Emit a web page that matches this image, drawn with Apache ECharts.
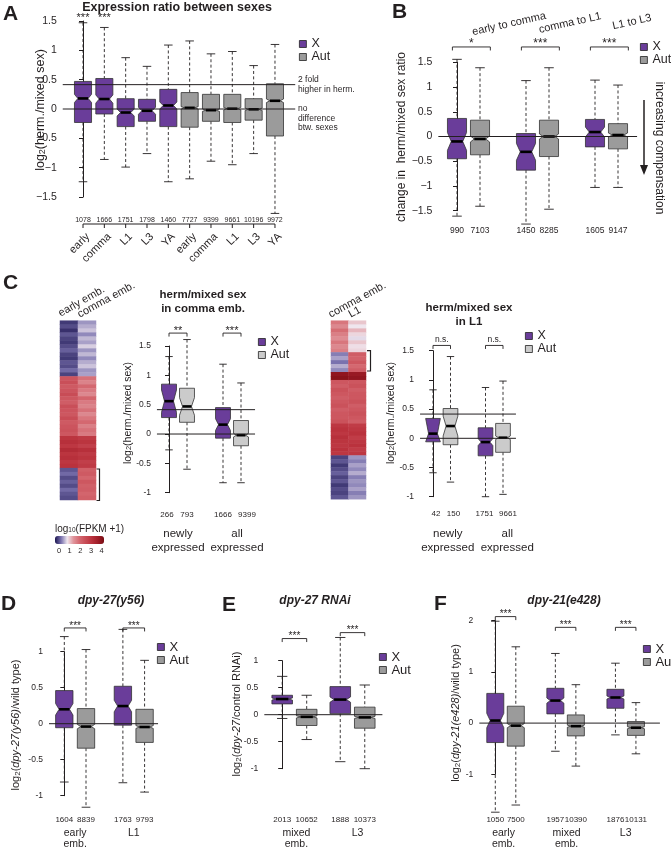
<!DOCTYPE html>
<html><head><meta charset="utf-8">
<script src="https://cdn.jsdelivr.net/npm/echarts@6.0.0/dist/echarts.min.js"></script>
<style>html,body{margin:0;padding:0;background:#fff}#c{width:671px;height:849px}</style>
</head><body><div id="c"></div><script>
const FONT = '"Liberation Sans", Arial, Helvetica, sans-serif';
const INK = '#231f20';
const X_COLOR = '#6a3d9a';
const AUT_COLOR = '#9b9b9b';
const AUT_LIGHT = '#cbcbcb';
const HEAT_COLORS = ['#1b1450','#7a72ae','#efe6ee','#e0959c','#d46870','#c84c56','#ba323d','#a01e29','#780b12'];

// ---------- Panel A ----------
const A_labels = ['early','comma','L1','L3','YA','early','comma','L1','L3','YA'];
const A_n = [1078,1666,1751,1798,1460,7727,9399,9661,10196,9972];
const A_type = [0,0,0,0,0,1,1,1,1,1];
const A_high = [1.47,1.39,0.875,0.727,1.09,1.16,0.94,0.98,0.74,1.10];
const A_q3 = [0.47,0.52,0.176,0.165,0.335,0.28,0.25,0.25,0.176,0.43];
const A_med = [0.18,0.17,-0.06,-0.03,0.06,0.02,-0.02,0.005,-0.005,0.14];
const A_q1 = [-0.23,-0.085,-0.30,-0.21,-0.30,-0.31,-0.21,-0.23,-0.19,-0.46];
const A_low = [-1.24,-0.86,-0.99,-0.76,-1.24,-1.19,-0.89,-0.95,-0.76,-1.78];
const A_notch = [0.07,0.07,0.06,0.06,0.06,0.02,0.02,0.02,0.02,0.03];
const A_sig = ['***','***'];

// ---------- Panel B ----------
const B_groups = ['early to comma','comma to L1','L1 to L3'];
const B_n = [990,7103,1450,8285,1605,9147];
const B_high = [1.56,1.39,1.13,1.39,1.14,1.04];
const B_q3 = [0.365,0.33,0.06,0.33,0.345,0.26];
const B_med = [-0.10,-0.05,-0.31,0.0,0.09,0.03];
const B_q1 = [-0.45,-0.37,-0.68,-0.405,-0.21,-0.25];
const B_low = [-1.61,-1.41,-1.77,-1.47,-1.03,-1.03];
const B_notch = [0.18,0.06,0.17,0.05,0.10,0.04];
const B_sig = ['*','***','***'];

// ---------- Panel C (left box plot) ----------
const C_groups = ['newly\nexpressed','all\nexpressed'];
const C1_n = [266,793,1666,9399];
const C1_high = [1.32,1.61,1.19,0.87];
const C1_q3 = [0.85,0.78,0.45,0.23];
const C1_med = [0.56,0.47,0.16,-0.02];
const C1_q1 = [0.28,0.20,-0.07,-0.20];
const C1_low = [-0.27,-0.60,-0.83,-0.83];
const C1_notch = [0.19,0.15,0.10,0.03];
const C1_sig = ['**','***'];

// ---------- Panel C (right box plot) ----------
const C2_n = [42,150,1751,9661];
const C2_high = [0.83,1.40,0.87,0.98];
const C2_q3 = [0.34,0.51,0.18,0.255];
const C2_med = [0.08,0.21,-0.065,0.01];
const C2_q1 = [-0.06,-0.11,-0.30,-0.24];
const C2_low = [-0.59,-0.75,-1.00,-0.96];
const C2_notch = [0.30,0.17,0.06,0.03];
const C2_sig = ['n.s.','n.s.'];

// ---------- Heatmaps (log10(FPKM+1)), rows top to bottom ----------
const H1_cols = ['early emb.','comma emb.'];
const H1_early = [0.2,0.3,0.15,0.35,0.25,0.2,0.3,0.4,0.25,0.2,0.35,0.3,0.45,0.25,
  2.35,2.45,2.25,2.35,2.5,2.3,2.2,2.45,2.35,2.3,2.5,2.25,2.35,2.4,2.3,
  2.95,3.05,2.9,3.15,2.95,3.05,2.9,3.0,
  0.35,0.45,0.3,0.4,0.3,0.45,0.35,0.3];
const H1_comma = [0.65,0.75,0.85,0.6,0.8,0.7,0.9,0.65,0.8,0.6,0.75,0.85,0.65,0.7,
  1.9,1.7,2.0,1.8,1.65,2.05,1.8,1.7,1.9,1.65,1.85,2.0,1.75,1.9,1.8,
  2.85,2.95,2.75,3.05,2.85,2.95,2.75,2.85,
  2.15,2.25,2.05,2.3,2.15,2.2,2.05,2.15];
const H2_cols = ['comma emb.','L1'];
const H2_comma = [1.85,1.65,1.95,1.75,1.6,1.85,1.65,1.75,
  0.55,0.7,0.5,0.75,0.6,
  3.7,3.8,
  2.3,2.2,2.4,2.3,2.2,2.3,2.4,2.2,2.3,2.3,2.4,
  2.9,3.0,2.9,3.05,2.95,2.9,3.0,2.9,
  0.25,0.35,0.2,0.3,0.4,0.25,0.35,0.2,0.3,0.25,0.35];
const H2_L1 = [1.2,1.0,1.3,1.1,0.95,1.2,1.05,1.1,
  2.2,2.1,2.3,2.0,2.2,
  3.6,3.7,
  2.3,2.4,2.2,2.3,2.3,2.4,2.2,2.3,2.4,2.3,2.2,
  2.8,2.9,3.0,2.8,2.9,3.0,2.8,2.9,
  0.65,0.55,0.7,0.6,0.75,0.55,0.65,0.6,0.7,0.55,0.65];
const CB_ticks = [0,1,2,3,4];

// ---------- Panel D ----------
const D_groups = ['early\nemb.','L1'];
const D_n = [1604,8839,1763,9793];
const D_high = [1.21,1.03,1.31,0.88];
const D_q3 = [0.46,0.21,0.52,0.20];
const D_med = [0.20,-0.04,0.245,-0.046];
const D_q1 = [-0.056,-0.34,-0.02,-0.26];
const D_low = [-0.81,-1.16,-0.82,-0.95];
const D_notch = [0.08,0.03,0.08,0.02];
const D_sig = ['***','***'];

// ---------- Panel E ----------
const E_groups = ['mixed\nemb.','L3'];
const E_n = [2013,10652,1888,10373];
const E_high = [0.71,0.36,1.43,0.55];
const E_q3 = [0.36,0.10,0.52,0.14];
const E_med = [0.29,-0.04,0.28,-0.05];
const E_q1 = [0.20,-0.20,0.02,-0.25];
const E_low = [-0.07,-0.46,-0.87,-1.0];
const E_notch = [0.02,0.02,0.05,0.02];
const E_sig = ['***','***'];

// ---------- Panel F ----------
const F_groups = ['early\nemb.','mixed\nemb.','L3'];
const F_n = [1050,7500,1957,10390,1876,10131];
const F_high = [1.99,1.49,1.36,0.75,1.17,0.40];
const F_q3 = [0.58,0.33,0.68,0.16,0.66,0.03];
const F_med = [0.05,-0.05,0.44,-0.06,0.50,-0.09];
const F_q1 = [-0.38,-0.45,0.18,-0.25,0.29,-0.24];
const F_low = [-1.74,-1.60,-0.55,-0.84,-0.23,-0.60];
const F_notch = [0.14,0.04,0.05,0.02,0.03,0.02];
const F_sig = ['***','***','***'];

// =================== building ===================
const option = {animation:false, backgroundColor:'#fff', grid:[], xAxis:[], yAxis:[], series:[], legend:[], graphic:[], visualMap:[]};

function fmtTick(v, minus){ return v < 0 ? minus + String(Math.abs(v)) : String(v); }

function boxRenderer(p){
  return function(params, api){
    const pos = api.value(0);
    const low = api.value(1), q1 = api.value(2), med = api.value(3), q3 = api.value(4), high = api.value(5), nh = api.value(6);
    const ci = api.value(7);
    const w = api.size([p.boxFrac, 0])[0];
    const hw = w / 2, ins = hw * 0.4, cap = hw / 2;
    const cx = api.coord([pos, med])[0];
    const Y = v => api.coord([pos, v])[1];
    const L = cx - hw, R = cx + hw;
    const yq3 = Y(q3), yq1 = Y(q1), ym = Y(med);
    const yn1 = Y(Math.min(q3, med + nh)), yn2 = Y(Math.max(q1, med - nh));
    const yh = Y(high), yl = Y(low);
    const fill = ci === 0 ? X_COLOR : p.autColor;
    const dash = {stroke: INK, lineWidth: 0.9, lineDash: [3, 2.4], fill: null};
    const solid = {stroke: INK, lineWidth: 0.9, fill: null};
    return {type:'group', children:[
      {type:'line', shape:{x1:cx, y1:yh, x2:cx, y2:yq3}, style:dash},
      {type:'line', shape:{x1:cx, y1:yq1, x2:cx, y2:yl}, style:dash},
      {type:'line', shape:{x1:cx-cap, y1:yh, x2:cx+cap, y2:yh}, style:solid},
      {type:'line', shape:{x1:cx-cap, y1:yl, x2:cx+cap, y2:yl}, style:solid},
      {type:'polygon', shape:{points:[[L,yq3],[R,yq3],[R,yn1],[R-ins,ym],[R,yn2],[R,yq1],[L,yq1],[L,yn2],[L+ins,ym],[L,yn1]]},
        style:{fill: fill, stroke:'#333', lineWidth:0.8}},
      {type:'line', shape:{x1:L+ins, y1:ym, x2:R-ins, y2:ym}, style:{stroke:'#000', lineWidth:2.6}}
    ]};
  };
}

function addPanel(p){
  const gi = option.grid.length;
  option.grid.push({left: p.x0 + p.xmin * p.u, top: p.top, width: (p.xmax - p.xmin) * p.u, height: p.bot - p.top});
  option.xAxis.push({gridIndex: gi, type:'value', min: p.xmin, max: p.xmax, show:false});
  option.yAxis.push({gridIndex: gi, type:'value', min: p.ymin, max: p.ymax, interval: p.yInt,
    axisLine:{show:true, lineStyle:{color:INK, width:1}},
    axisTick:{show:true, length:4, lineStyle:{color:INK, width:1}},
    axisLabel:{fontSize:p.tickFont, color:INK, margin:6, fontFamily:FONT, formatter: v => fmtTick(v, p.minus)},
    splitLine:{show:false}});
  const pos = p.n.map((_, i) => Math.floor(i / p.perGroup) * p.gs + (i % p.perGroup));
  const col = p.n.map((_, i) => p.type ? p.type[i] : i % 2);
  const rows = p.n.map((_, i) => [pos[i], p.low[i], p.q1[i], p.med[i], p.q3[i], p.high[i], p.notch[i], col[i]]);
  const base = {type:'custom', xAxisIndex:gi, yAxisIndex:gi, silent:true, clip:false};
  option.series.push(Object.assign({}, base, {name:'X', itemStyle:{color:X_COLOR}, encode:{x:0, y:[1,2,3,4,5]}, renderItem: boxRenderer(p), z:3,
    data: rows.filter(r => r[7] === 0)}));
  option.series.push(Object.assign({}, base, {name:'Aut', itemStyle:{color:p.autColor}, encode:{x:0, y:[1,2,3,4,5]}, renderItem: boxRenderer(p), z:3,
    data: rows.filter(r => r[7] === 1)}));
  option.series.push(Object.assign({}, base, {name:'ref', z:4, data: p.refs.map(v => [p.xmin, v]), encode:{x:0, y:1},
    renderItem: (params, api) => {
      const cs = params.coordSys;
      const y = api.coord([api.value(0), api.value(1)])[1];
      return {type:'line', shape:{x1:cs.x, y1:y, x2:cs.x + cs.width, y2:y}, style:{stroke:INK, lineWidth:1}};
    }}));
  const cOff = p.countOffset || p.n.map(() => 0);
  option.series.push(Object.assign({}, base, {name:'n', z:4, data: pos.map(x => [x, p.ymin]), encode:{x:0, y:1},
    renderItem: (params, api) => {
      const x = api.coord([api.value(0), api.value(1)])[0] + cOff[params.dataIndex];
      return {type:'text', x: x, y: p.countY, style:{text: String(p.n[params.dataIndex]), fontSize: p.countFont, fontFamily: FONT, fill: INK, align:'center', verticalAlign:'middle'}};
    }}));
  option.series.push(Object.assign({}, base, {name:'sig', z:4,
    data: p.sigPairs.map((pr, k) => {
      const br = pr[0] !== pr[1];
      return [pos[pr[0]] + (br ? p.brExt[0] : 0), pos[pr[1]] + (br ? p.brExt[1] : 0), p.sigY[k]];
    }), encode:{x:[0,1], y:2},
    renderItem: (params, api) => {
      const a = api.coord([api.value(0), api.value(2)]);
      const b = api.coord([api.value(1), api.value(2)]);
      const ch = [];
      if (Math.abs(b[0] - a[0]) > 1) ch.push({type:'polyline', shape:{points:[[a[0], a[1] + 3.5], [a[0], a[1]], [b[0], b[1]], [b[0], b[1] + 3.5]]}, style:{stroke:INK, fill:null, lineWidth:0.9}});
      ch.push({type:'text', x:(a[0] + b[0]) / 2, y: a[1] - p.sigGap, style:{text: p.sig[params.dataIndex], fontSize: p.sigFont, fontFamily: FONT, fill: INK, align:'center', verticalAlign:'bottom'}});
      return {type:'group', children: ch};
    }}));
  if (p.groups) {
    const gOff = p.groupOffset || p.groups.map(() => 0);
    option.series.push(Object.assign({}, base, {name:'grp', z:4, data: p.groups.map((_, g) => [g * p.gs + 0.5, p.ymin]), encode:{x:0, y:1},
      renderItem: (params, api) => {
        const x = api.coord([api.value(0), api.value(1)])[0] + gOff[params.dataIndex];
        return {type:'text', x: x, y: p.groupY, style:{text: p.groups[params.dataIndex], fontSize: p.groupFont, lineHeight: p.groupLH, fontFamily: FONT, fill: INK, align:'center', verticalAlign:'top'}};
      }}));
  }
  if (p.bottomAxis) {
    const ba = p.bottomAxis;
    option.series.push(Object.assign({}, base, {name:'axis', z:4, data: pos.map(x => [x, p.ymin]), encode:{x:0, y:1},
      renderItem: (params, api) => {
        const i = params.dataIndex;
        const x = api.coord([api.value(0), api.value(1)])[0];
        const ch = [
          {type:'line', shape:{x1:x, y1:ba.y, x2:x, y2:ba.y + 4}, style:{stroke:INK, lineWidth:1}},
          {type:'text', x: x + 5, y: ba.y + 11, rotation: Math.PI / 4, style:{text: ba.labels[i], fontSize: ba.font, fontFamily: FONT, fill: INK, align:'right', verticalAlign:'middle'}}
        ];
        if (i === 0) {
          const xl = api.coord([pos[pos.length - 1], 0])[0];
          ch.push({type:'line', shape:{x1:x, y1:ba.y, x2:xl, y2:ba.y}, style:{stroke:INK, lineWidth:1}});
        }
        return {type:'group', children: ch};
      }}));
  }
  option.legend.push({orient:'vertical', left: p.legend[0], top: p.legend[1], itemWidth:7, itemHeight:7, itemGap: 0, padding:0, icon:'rect', selectedMode:false,
    textStyle:{fontSize: p.legendFont, lineHeight: p.legendLH, fontFamily: FONT, color: INK},
    data:[{name:'X', itemStyle:{color:X_COLOR, borderColor:'#222', borderWidth:0.8}},
          {name:'Aut', itemStyle:{color:p.autColor, borderColor:'#222', borderWidth:0.8}}]});
}

addPanel({n:A_n, low:A_low, q1:A_q1, med:A_med, q3:A_q3, high:A_high, notch:A_notch, type:A_type, perGroup:10, gs:0,
  x0:83, u:21.33, xmin:-0.95, xmax:9.95, top:21, bot:197, ymin:-1.5, ymax:1.5, yInt:0.5, boxFrac:0.8, autColor:AUT_COLOR,
  minus:'\u2212', tickFont:10.5, refs:[0, 0.415], countY:220, countFont:7,
  sig:A_sig, sigPairs:[[0,0],[1,1]], sigY:[1.5, 1.5], sigGap:-2, sigFont:11, brExt:[0,0],
  bottomAxis:{y:224, labels:A_labels, font:11}, legend:[299, 37.5], legendFont:12.5, legendLH:12});

addPanel({n:B_n, low:B_low, q1:B_q1, med:B_med, q3:B_q3, high:B_high, notch:B_notch, perGroup:2, gs:3,
  x0:457, u:23, xmin:-0.81, xmax:7.83, top:62.3, bot:210.7, ymin:-1.5, ymax:1.5, yInt:0.5, boxFrac:0.83, autColor:AUT_COLOR,
  minus:'\u2212', tickFont:10.5, refs:[0], countY:231, countFont:8.5,
  sig:B_sig, sigPairs:[[0,1],[2,3],[4,5]], sigY:[1.81,1.81,1.81], sigGap:-3, sigFont:12, brExt:[-0.2, 0.45],
  legend:[640, 40.5], legendFont:12.5, legendLH:11});

addPanel({n:C1_n, low:C1_low, q1:C1_q1, med:C1_med, q3:C1_q3, high:C1_high, notch:C1_notch, perGroup:2, gs:3,
  x0:169, u:18, xmin:-0.67, xmax:4.78, top:346, bot:492.7, ymin:-1, ymax:1.5, yInt:0.5, boxFrac:0.83, autColor:AUT_LIGHT,
  minus:'-', tickFont:8.5, refs:[0, 0.415], countY:515, countFont:8, countOffset:[-2, 0, 0, 6],
  sig:C1_sig, sigPairs:[[0,1],[2,3]], sigY:[1.72,1.72], sigGap:-3, sigFont:11, brExt:[0,0],
  groups:C_groups, groupY:527, groupFont:11.5, groupLH:14, groupOffset:[0, 5],
  legend:[258, 335.5], legendFont:12.5, legendLH:11});

addPanel({n:C2_n, low:C2_low, q1:C2_q1, med:C2_med, q3:C2_q3, high:C2_high, notch:C2_notch, perGroup:2, gs:3,
  x0:433, u:17.5, xmin:-0.74, xmax:4.74, top:350.7, bot:496.7, ymin:-1, ymax:1.5, yInt:0.5, boxFrac:0.84, autColor:AUT_LIGHT,
  minus:'-', tickFont:8.5, refs:[0, 0.415], countY:514, countFont:8, countOffset:[3, 3, -1, 5],
  sig:C2_sig, sigPairs:[[0,1],[2,3]], sigY:[1.59,1.59], sigGap:1, sigFont:8.5, brExt:[0,0],
  groups:C_groups, groupY:527, groupFont:11.5, groupLH:14, groupOffset:[6, 13],
  legend:[525, 329.5], legendFont:12.5, legendLH:11});

addPanel({n:D_n, low:D_low, q1:D_q1, med:D_med, q3:D_q3, high:D_high, notch:D_notch, perGroup:2, gs:2.7,
  x0:64.3, u:21.7, xmin:-0.705, xmax:4.32, top:651.7, bot:795.7, ymin:-1, ymax:1, yInt:0.5, boxFrac:0.8, autColor:AUT_COLOR,
  minus:'-', tickFont:8.5, refs:[0], countY:820, countFont:8,
  sig:D_sig, sigPairs:[[0,1],[2,3]], sigY:[1.33,1.33], sigGap:-3, sigFont:10, brExt:[0,0],
  groups:D_groups, groupY:828, groupFont:10.5, groupLH:11,
  legend:[157, 640.5], legendFont:13, legendLH:11});

addPanel({n:E_n, low:E_low, q1:E_q1, med:E_med, q3:E_q3, high:E_high, notch:E_notch, perGroup:2, gs:2.37,
  x0:282.2, u:24.5, xmin:-0.73, xmax:4.09, top:660.7, bot:768.7, ymin:-1, ymax:1, yInt:0.5, boxFrac:0.84, autColor:AUT_COLOR,
  minus:'-', tickFont:8.5, refs:[0], countY:820, countFont:8,
  sig:E_sig, sigPairs:[[0,1],[2,3]], sigY:[1.41,1.52], sigGap:-3, sigFont:10, brExt:[0,0],
  groups:E_groups, groupY:828, groupFont:10.5, groupLH:11, groupOffset:[2, 5],
  legend:[379, 650.5], legendFont:13, legendLH:10.5});

addPanel({n:F_n, low:F_low, q1:F_q1, med:F_med, q3:F_q3, high:F_high, notch:F_notch, perGroup:2, gs:2.93,
  x0:495.3, u:20.5, xmin:-0.78, xmax:8.03, top:620.7, bot:774.3, ymin:-1, ymax:2, yInt:1, boxFrac:0.83, autColor:AUT_COLOR,
  minus:'-', tickFont:8.5, refs:[0], countY:820, countFont:8,
  sig:F_sig, sigPairs:[[0,1],[2,3],[4,5]], sigY:[2.08,1.87,1.87], sigGap:-3, sigFont:10, brExt:[0,0],
  groups:F_groups, groupY:828, groupFont:10.5, groupLH:11, groupOffset:[-2, 1, 0],
  legend:[643, 642.5], legendFont:13, legendLH:10.5});

function addHeatmap(cols, colData, box){
  const gi = option.grid.length;
  option.grid.push({left: box.left, top: box.top, width: box.width, height: box.height});
  option.xAxis.push({gridIndex: gi, type:'category', data: cols, show:false});
  option.yAxis.push({gridIndex: gi, type:'category', data: colData[0].map((_, i) => String(i)), inverse:true, show:false});
  const data = [];
  colData.forEach((arr, c) => arr.forEach((v, r) => data.push([c, r, v])));
  option.series.push({type:'heatmap', xAxisIndex: gi, yAxisIndex: gi, data: data, silent:true, progressive:0, itemStyle:{borderWidth:0}});
  return option.series.length - 1;
}
const h1 = addHeatmap(H1_cols, [H1_early, H1_comma], {left:60, top:320.7, width:36, height:179.3});
const h2 = addHeatmap(H2_cols, [H2_comma, H2_L1], {left:331, top:320.7, width:35, height:178.5});
option.visualMap.push({type:'continuous', min:0, max:4, seriesIndex:[h1, h2], orient:'horizontal', left:55, top:536,
  itemWidth:8, itemHeight:49, calculable:false, padding:0, showLabel:false, inRange:{color: HEAT_COLORS}});
(function(){
  const gi = option.grid.length;
  option.grid.push({left:55, top:544, width:49, height:1});
  option.xAxis.push({gridIndex:gi, type:'value', min:-0.375, max:4.22, axisLine:{show:false}, axisTick:{show:false}, splitLine:{show:false},
    axisLabel:{customValues: CB_ticks, fontSize:7.5, color:INK, fontFamily:FONT, margin:2}});
  option.yAxis.push({gridIndex:gi, type:'value', show:false});
})();

function rich(size, sub){
  return {
    n:{fontSize:size, fontFamily:FONT, fill:INK, lineHeight:size+2, verticalAlign:'bottom'},
    i:{fontSize:size, fontFamily:FONT, fontStyle:'italic', fill:INK, lineHeight:size+2, verticalAlign:'bottom'},
    s:{fontSize:sub, fontFamily:FONT, fill:INK, lineHeight:sub-1, verticalAlign:'bottom'}
  };
}
function txt(x, y, text, o){
  o = o || {};
  const st = {text: text, fontSize: o.size || 11, fontFamily: FONT, fontWeight: o.weight || 'normal', fontStyle: o.italic ? 'italic' : 'normal',
    fill: INK, align: o.align || 'center', verticalAlign: o.va || 'middle'};
  if (o.lh) st.lineHeight = o.lh;
  if (o.rich) st.rich = o.rich;
  return {type:'text', x: x, y: y, rotation: o.rot || 0, silent:true, style: st};
}
const G = option.graphic;
G.push(txt(3, 14.5, 'A', {size:21, weight:'bold', align:'left'}));
G.push(txt(392, 12, 'B', {size:21, weight:'bold', align:'left'}));
G.push(txt(3, 283, 'C', {size:21, weight:'bold', align:'left'}));
G.push(txt(1, 604, 'D', {size:21, weight:'bold', align:'left'}));
G.push(txt(222, 605, 'E', {size:21, weight:'bold', align:'left'}));
G.push(txt(434, 604, 'F', {size:21, weight:'bold', align:'left'}));
G.push(txt(177, 8, 'Expression ratio between sexes', {size:12.5, weight:'bold'}));
G.push(txt(203, 288, 'herm/mixed sex\nin comma emb.', {size:11.5, weight:'bold', va:'top', lh:14}));
G.push(txt(469, 301, 'herm/mixed sex\nin L1', {size:11.5, weight:'bold', va:'top', lh:14}));
G.push(txt(111, 601, 'dpy-27(y56)', {size:12, weight:'bold', italic:true}));
G.push(txt(315, 601, 'dpy-27 RNAi', {size:12, weight:'bold', italic:true}));
G.push(txt(564, 601, 'dpy-21(e428)', {size:12, weight:'bold', italic:true}));
G.push(txt(40, 110, '{n|log}{s|2}{n|(herm./mixed sex)}', {rot:Math.PI/2, rich:rich(12.5, 9)}));
G.push(txt(402, 137, 'change in  herm/mixed sex ratio', {rot:Math.PI/2, size:12}));
G.push(txt(127, 413, '{n|log}{s|2}{n|(herm./mixed sex)}', {rot:Math.PI/2, rich:rich(10.5, 7.5)}));
G.push(txt(390, 413, '{n|log}{s|2}{n|(herm./mixed sex)}', {rot:Math.PI/2, rich:rich(10.5, 7.5)}));
G.push(txt(15, 725, '{n|log}{s|2}{n|(}{i|dpy-27(y56)}{n|/wild type)}', {rot:Math.PI/2, rich:rich(11, 8)}));
G.push(txt(236, 714, '{n|log}{s|2}{n|(}{i|dpy-27}{n|/control RNAi)}', {rot:Math.PI/2, rich:rich(11, 8)}));
G.push(txt(455, 713, '{n|log}{s|2}{n|(}{i|dpy-21(e428)}{n|/wild type)}', {rot:Math.PI/2, rich:rich(11, 8)}));
G.push(txt(298, 75, '2 fold\nhigher in herm.', {size:8.5, align:'left', va:'top', lh:10}));
G.push(txt(298, 104.5, 'no\ndifference\nbtw. sexes', {size:8.5, align:'left', va:'top', lh:9.3}));
G.push(txt(509, 24, B_groups[0], {size:11, rot:0.22}));
G.push(txt(570, 23, B_groups[1], {size:11, rot:0.22}));
G.push(txt(632, 22, B_groups[2], {size:11, rot:0.22}));
G.push(txt(659, 148, 'increasing compensation', {size:12, rot:-Math.PI/2}));
G.push({type:'line', silent:true, shape:{x1:644, y1:100, x2:644, y2:168}, style:{stroke:INK, lineWidth:1.5}});
G.push({type:'polygon', silent:true, shape:{points:[[640,165],[648,165],[644,175]]}, style:{fill:INK}});
G.push(txt(62, 319, H1_cols[0], {size:11, rot:0.52, align:'left', va:'bottom'}));
G.push(txt(81, 320, H1_cols[1], {size:11, rot:0.5, align:'left', va:'bottom'}));
G.push(txt(332, 320, H2_cols[0], {size:11, rot:0.5, align:'left', va:'bottom'}));
G.push(txt(352, 320, H2_cols[1], {size:11, rot:0.5, align:'left', va:'bottom'}));
G.push({type:'polyline', silent:true, shape:{points:[[96.5,469],[99.5,469],[99.5,500.5],[96.5,500.5]]}, style:{stroke:INK, fill:null, lineWidth:1.2}});
G.push({type:'polyline', silent:true, shape:{points:[[367,350.7],[370.5,350.7],[370.5,371],[367,371]]}, style:{stroke:INK, fill:null, lineWidth:1.2}});
G.push(txt(55, 528, '{n|log}{s|10}{n|(FPKM +1)}', {align:'left', rich:rich(10, 6.5)}));

const chart = echarts.init(document.getElementById('c'), null, {renderer:'canvas', width:671, height:849});
chart.setOption(option);
</script></body></html>
